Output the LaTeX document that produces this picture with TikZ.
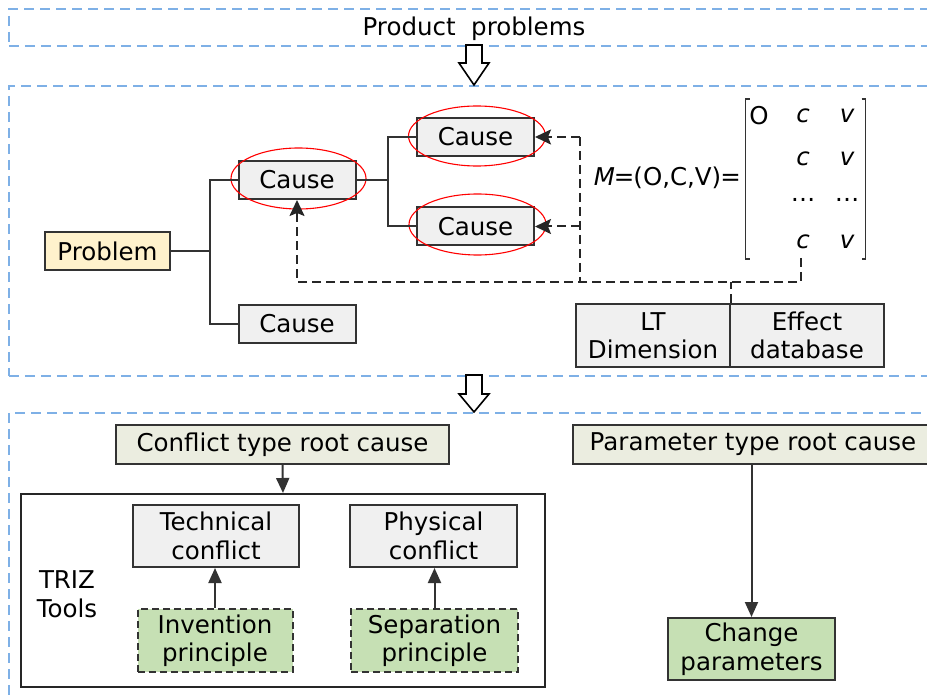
\documentclass[tikz,border=0pt]{standalone}
\usepackage{fontspec}
\setmainfont{DejaVu Sans}
\usetikzlibrary{arrows.meta,shapes.geometric}
\definecolor{regionblue}{HTML}{7EB0E6}
\definecolor{boxgray}{HTML}{F0F0F0}
\definecolor{probfill}{HTML}{FFF2CC}
\definecolor{rootfill}{HTML}{EBEDE0}
\definecolor{greenfill}{HTML}{C6E0B4}
\definecolor{edge}{HTML}{333333}
\begin{document}
\begin{tikzpicture}[x=1pt,y=-1pt,
  txt/.style={font=\fontsize{24.5}{28.5}\selectfont, inner sep=0pt, align=center},
  itxt/.style={txt, font=\fontsize{24.5}{28.5}\selectfont\itshape},
  region/.style={draw=regionblue, line width=1.9pt, dash pattern=on 10pt off 6pt, inner sep=0pt, anchor=north west},
  box/.style={txt, draw=edge, line width=2pt, fill=boxgray},
  tree/.style={draw=edge, line width=2pt},
  dline/.style={draw=black!85, line width=2pt, dash pattern=on 9pt off 5pt},
  tip/.style={-{Triangle[length=15pt,width=13pt]}},
  dtip/.style={-{Stealth[length=16pt,width=15pt,inset=3pt]}},
  redell/.style={ellipse, draw=red, line width=1.1pt, inner sep=0pt},
  hollow/.style={draw=black, line width=1.6pt, fill=white, line join=miter}
]
\useasboundingbox (0,0) rectangle (927,700);

% regions
\node[region, minimum width=930, minimum height=37] (r1) at (8,8) {};
\node[region, minimum width=930, minimum height=290] (r2) at (8,85) {};
\node[region, minimum width=930, minimum height=300] (r3) at (8,412) {};
\node[txt] (prod) at (474,28.5) {Product~ problems};

% hollow arrows
\draw[hollow] (466,45) -- (482,45) -- (482,63) -- (489,63) -- (474,85) -- (459,63) -- (466,63) -- cycle;
\draw[hollow] (466,375) -- (482,375) -- (482,394) -- (489,394) -- (474,412) -- (459,394) -- (466,394) -- cycle;

% tree
\node[box, fill=probfill, minimum width=125, minimum height=38] (pb) at (107.5,251) {Problem};
\node[box, minimum width=117, minimum height=38] (c1) at (297,180) {Cause};
\node[box, minimum width=117, minimum height=38] (c2) at (475.5,137) {Cause};
\node[box, minimum width=117, minimum height=38] (c3) at (475.5,226.5) {Cause};
\node[box, minimum width=117, minimum height=38] (c4) at (297,324) {Cause};
\node[redell, minimum width=135, minimum height=61] (e1) at (298.5,178.5) {};
\node[redell, minimum width=137, minimum height=60] (e2) at (477,136) {};
\node[redell, minimum width=137, minimum height=61] (e3) at (477.5,224.5) {};

\coordinate (tx) at (209.5,0);
\coordinate (ty) at (388,0);
\draw[tree] (pb.east) -- (pb.east -| tx);
\draw[tree] (c1.west) -| (tx |- c4.west) -- (c4.west);
\draw[tree] (c1.east) -- (c1.east -| ty);
\draw[tree] (c2.west) -| (ty |- c3.west) -- (c3.west);

% matrix
\node[txt, anchor=east] (meq) at (741,178) {{\itshape M}\hspace{-1pt}=\hspace{-1pt}(O,C,V)\hspace{-1pt}=};
\draw[line width=1.3pt, black!80] (749.5,99) -- (745.5,99) -- (745.5,259) -- (749.5,259);
\draw[line width=1.3pt, black!80] (861.5,99) -- (865.5,99) -- (865.5,259) -- (861.5,259);
\node[txt] (m11) at (759,116) {O};
\node[itxt] (m12) at (803,116) {c};
\node[itxt] (m13) at (847,116) {v};
\node[itxt] (m22) at (803,159) {c};
\node[itxt] (m23) at (847,159) {v};
\node[txt, anchor=base] (m32) at (803,202) {…};
\node[txt, anchor=base] (m33) at (847,202) {…};
\node[itxt] (m42) at (803,242) {c};
\node[itxt] (m43) at (847,242) {v};
\coordinate (mb) at (801,258);

% LT / Effect
\node[box, minimum width=154, minimum height=63] (lt) at (653,335.5) {LT\\Dimension};
\node[box, minimum width=154, minimum height=63] (eff) at (807,335.5) {Effect\\database};

% dashed feedback
\coordinate (dx) at (579.5,282);
\draw[dline] (c2.east -| dx) -- (dx);
\draw[dline, dtip] (c2.east -| dx) -- (c2.east);
\draw[dline, dtip] (c3.east -| dx) -- (c3.east);
\draw[dline, dtip] (mb) |- (c1.south |- dx) -- (c1.south);
\draw[dline] (lt.north east) -- (lt.north east |- dx);

% bottom section
\node[box, fill=rootfill, minimum width=333, minimum height=39] (cr) at (282.5,444.5) {Conflict type root cause};
\node[box, fill=rootfill, minimum width=360, minimum height=39] (pr) at (753,444.5) {Parameter type root cause};
\node[draw=black!85, line width=2pt, fill=white, minimum width=524, minimum height=193, inner sep=0pt] (triz) at (283,590.5) {};
\node[txt] (tl) at (67,594) {TRIZ\\Tools};
\node[box, minimum width=166, minimum height=62] (tech) at (216,536) {Technical\\conflict};
\node[box, minimum width=167, minimum height=62] (phys) at (433.5,536) {Physical\\conflict};
\node[box, fill=greenfill, dash pattern=on 7pt off 4pt, minimum width=155, minimum height=63] (inv) at (215,640.5) {Invention\\principle};
\node[box, fill=greenfill, dash pattern=on 7pt off 4pt, minimum width=167, minimum height=63] (sep) at (434.5,640.5) {Separation\\principle};
\node[box, fill=greenfill, minimum width=167, minimum height=62] (chg) at (751.5,649) {Change\\parameters};

\draw[tree, tip] (cr.south) -- (triz.north);
\draw[tree, tip] (inv.north) -- (inv.north |- tech.south);
\draw[tree, tip] (sep.north) -- (sep.north |- phys.south);
\draw[tree, tip] (pr.south -| chg.north) -- (chg.north);
\end{tikzpicture}
\end{document}
